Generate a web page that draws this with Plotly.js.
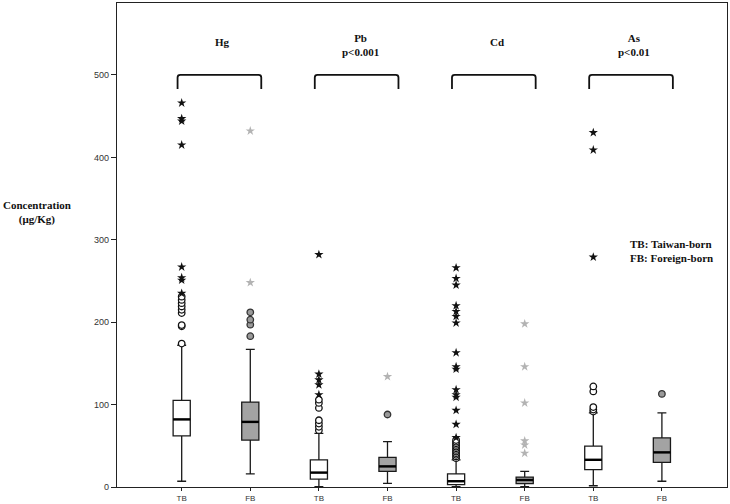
<!DOCTYPE html>
<html>
<head>
<meta charset="utf-8">
<script src="https://cdn.plot.ly/plotly-3.0.1.min.js"></script>
<style>html,body{margin:0;padding:0;background:#fff;}#chart{width:730px;height:504px;}</style>
</head>
<body>
<div id="chart"></div>
<script>
// ---- data ----
const groupLabels = ['TB', 'FB', 'TB', 'FB', 'TB', 'FB', 'TB', 'FB'];
const metals = ['Hg', 'Pb', 'Cd', 'As'];
const pLabels = ['', 'p<0.001', '', 'p<0.01'];
const q1 = [62, 57, 9.5, 19, 3, 4, 21, 30];
const median = [82, 79, 17.5, 25, 7, 8.5, 33, 42];
const q3 = [105, 103, 33, 36, 16, 12, 49.5, 59.5];
const lowerWhisker = [7, 16, 0.5, 4.5, 0.3, 0.5, 1.5, 7];
const upperWhisker = [172, 167, 65, 55, 33, 19, 90, 90];
const circleOutliers = [
  [174, 195, 196.5, 211, 215, 219, 223, 227, 231],
  [183, 197, 203, 212],
  [69, 73, 77, 81, 96, 102, 106],
  [88],
  [35, 37, 39, 41, 43, 45, 47, 49, 51, 53, 55, 57],
  [],
  [91.5, 94, 97, 116, 122],
  [113]
];
const starOutliers = [
  [235, 251, 254, 267, 415, 444, 447, 466],
  [248, 432],
  [112, 124, 130, 137, 282],
  [134],
  [60, 76, 93, 109, 112, 118, 143, 146, 163, 199, 207, 213, 220, 245, 253, 266],
  [41, 51, 56, 102, 146, 198],
  [279, 409, 430],
  []
];
const legendLines = ['TB: Taiwan-born', 'FB: Foreign-born'];

// ---- build ----
const boxW = 0.25;
const traces = [];
const isTB = i => i % 2 === 0;
[0, 1].forEach(kind => {
  const idx = groupLabels.map((g, i) => i).filter(i => (i % 2) === kind);
  traces.push({
    type: 'box',
    x: idx,
    q1: idx.map(i => q1[i]),
    median: idx.map(i => median[i]),
    q3: idx.map(i => q3[i]),
    lowerfence: idx.map(i => lowerWhisker[i]),
    upperfence: idx.map(i => upperWhisker[i]),
    width: boxW,
    whiskerwidth: 0.52,
    fillcolor: kind === 0 ? '#ffffff' : '#a3a3a3',
    line: {color: '#1a1a1a', width: 1.3},
    boxpoints: false,
    hoverinfo: 'skip',
    showlegend: false
  });
});
// thick median lines
const mx = [], my = [];
median.forEach((m, i) => { mx.push(i - boxW / 2, i + boxW / 2, null); my.push(m, m, null); });
traces.push({type: 'scatter', mode: 'lines', x: mx, y: my, line: {color: '#000', width: 2.4}, hoverinfo: 'skip', showlegend: false});

// outliers
groupLabels.forEach((g, i) => {
  const tb = isTB(i);
  if (circleOutliers[i].length) traces.push({
    type: 'scatter', mode: 'markers',
    x: circleOutliers[i].map(() => i), y: circleOutliers[i],
    marker: {symbol: 'circle', size: 6.5, color: tb ? '#ffffff' : '#9a9a9a', line: {color: tb ? '#111' : '#333', width: 1.3}},
    hoverinfo: 'skip', showlegend: false
  });
  if (starOutliers[i].length) traces.push({
    type: 'scatter', mode: 'markers',
    x: starOutliers[i].map(() => i), y: starOutliers[i],
    marker: {symbol: 'star', size: 7, color: tb ? '#111' : '#b3b3b3', line: {width: 0}},
    hoverinfo: 'skip', showlegend: false
  });
});

const shapes = [];
const annotations = [];
const serif = 'Liberation Serif, Times New Roman, serif';
metals.forEach((m, k) => {
  const i = 2 * k;
  const xa = i - 0.06, xb = i + 1.16;
  shapes.push({type: 'path', xref: 'x', yref: 'y',
    path: `M ${xa} 483 L ${xa} 497 Q ${xa} 500 ${xa + 0.04} 500 L ${xb - 0.04} 500 Q ${xb} 500 ${xb} 497 L ${xb} 483`,
    line: {color: '#111', width: 1.8}});
  const txt = pLabels[k] ? `<b>${m}</b><br><b>${pLabels[k]}</b>` : `<b>${m}</b>`;
  annotations.push({xref: 'x', yref: 'y', x: i + 0.6, y: pLabels[k] ? 536 : 540, text: txt,
    showarrow: false, xanchor: 'center', yanchor: 'middle',
    font: {family: serif, size: 11, color: '#111'}});
});
annotations.push({xref: 'paper', yref: 'y', x: 0.838, y: 286,
  text: legendLines.map(s => `<b>${s}</b>`).join('<br>'), align: 'left',
  showarrow: false, xanchor: 'left', yanchor: 'middle',
  font: {family: serif, size: 11, color: '#111'}});
annotations.push({xref: 'paper', yref: 'y', x: -0.1316, y: 333,
  text: '<b>Concentration</b><br><b>(μg/Kg)</b>', align: 'center',
  showarrow: false, xanchor: 'center', yanchor: 'middle',
  font: {family: serif, size: 11, color: '#111'}});

const layout = {
  width: 730, height: 504,
  margin: {l: 117, r: 3, t: 3, b: 16.5},
  paper_bgcolor: '#fff', plot_bgcolor: '#fff',
  showlegend: false,
  boxmode: 'overlay',
  xaxis: {
    range: [-0.943, 7.949], showgrid: false, zeroline: false,
    tickmode: 'array', tickvals: groupLabels.map((g, i) => i), ticktext: groupLabels,
    ticks: 'outside', ticklen: 3, tickcolor: '#222', tickwidth: 1,
    showline: true, linecolor: '#222', linewidth: 1.2, mirror: true,
    tickfont: {family: 'Liberation Sans, Arial, sans-serif', size: 8, color: '#333'}
  },
  yaxis: {
    range: [0, 587.3], showgrid: false, zeroline: false,
    tickvals: [0, 100, 200, 300, 400, 500],
    ticks: 'outside', ticklen: 5, tickcolor: '#222', tickwidth: 1,
    showline: true, linecolor: '#222', linewidth: 1.2, mirror: true,
    tickfont: {family: 'Liberation Sans, Arial, sans-serif', size: 9, color: '#333'}
  },
  shapes: shapes,
  annotations: annotations
};
Plotly.newPlot('chart', traces, layout, {staticPlot: true, displayModeBar: false});
</script>
</body>
</html>
